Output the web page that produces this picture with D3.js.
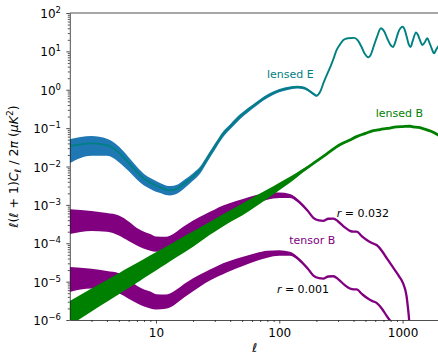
<!DOCTYPE html>
<html>
<head>
<meta charset="utf-8">
<script src="https://cdn.jsdelivr.net/npm/d3@7"></script>
<style>
  body { margin: 0; background: #fff; }
  svg { display: block; }
  text { font-family: "DejaVu Sans", sans-serif; }
</style>
</head>
<body>
<svg id="chart" width="438" height="355"></svg>
<script>
// ---- Lensed E-mode spectrum, D_ell in uK^2 ----
const lensedEEll = [2,3,4,5,6,7,8,9,10,11,12,13,15,17,20,23,26,30,35,40,48,56,65,75,89,100,122,140,160,180,200,215,230,245,260,275,292,310,331,360,405,435,465,495,527,555,585,620,668,710,750,795,836,875,918,960,1000,1040,1080,1120,1162,1210,1285,1330,1380,1450,1510,1585,1650,1720,1800,1870,1930,2000];
const lensedE = [0.034,0.040,0.036,0.023,0.0125,0.0072,0.0048,0.0038,0.0032,0.0028,0.0025,0.0024,0.0027,0.0036,0.0055,0.0085,0.016,0.033,0.070,0.11,0.20,0.30,0.43,0.60,0.81,0.95,1.12,1.18,1.10,0.88,0.70,0.90,1.6,2.6,4.0,6.4,10.9,15,19.8,22,22.5,19,13,8.5,7.0,8.5,14,24,40,33,22,15,13,18,30,40,44,37,24,15.5,13,19,31,27,20,14.7,17,22,17,12,8.9,11,13,15];
// cosmic-variance band on lensed E
const lensedEBandEll = [2,3,4,5,6,7,8,9,10,11,12,13,15,17,20,23,26,30,35,40,48,56,65,75,89,100,122,140,160,180,200];
const lensedELo = [0.0123,0.019,0.019,0.013,0.0076,0.0046,0.0032,0.0026,0.0022,0.0020,0.0018,0.00175,0.0020,0.0027,0.0043,0.0068,0.013,0.027,0.058,0.093,0.171,0.26,0.377,0.53,0.725,0.855,1.02,1.08,1.01,0.815,0.65];
const lensedEHi = [0.051,0.062,0.053,0.033,0.0174,0.0098,0.0064,0.0050,0.0042,0.0036,0.0032,0.0031,0.0034,0.0045,0.0067,0.0103,0.019,0.039,0.082,0.127,0.229,0.34,0.483,0.67,0.895,1.045,1.22,1.28,1.19,0.945,0.75];

// ---- Lensed B-mode spectrum ----
const lensedBEll = [2,3,4,5,6,7,8,10,12,15,20,25,30,40,50,65,80,100,122,150,190,240,310,370,424,500,578,656,750,896,1000,1150,1222,1350,1500,1700,2000];
const lensedB = [1.9e-6,3.8e-6,6.0e-6,9.2e-6,1.3e-5,1.75e-5,2.25e-5,3.4e-5,4.9e-5,7.5e-5,1.29e-4,2.0e-4,2.9e-4,5.1e-4,7.6e-4,1.27e-3,1.9e-3,3.0e-3,4.5e-3,7.2e-3,0.0122,0.0207,0.037,0.048,0.060,0.073,0.086,0.092,0.098,0.108,0.110,0.112,0.108,0.104,0.095,0.083,0.063];
const lensedBBandEll = [2,3,4,5,6,7,8,10,12,15,20,25,30,40,50,65,80,100,122,150,190];
const lensedBLo = [7.2e-7,1.66e-6,2.98e-6,4.7e-6,6.8e-6,9.3e-6,1.24e-5,1.96e-5,2.85e-5,4.5e-5,8.1e-5,1.36e-4,1.99e-4,3.58e-4,5.3e-4,9.2e-4,1.44e-3,2.4e-3,3.75e-3,6.4e-3,0.0117];
const lensedBHi = [3.15e-6,6.6e-6,1.11e-5,1.66e-5,2.32e-5,3.08e-5,3.9e-5,5.8e-5,8.1e-5,1.22e-4,2.05e-4,3.08e-4,4.28e-4,7.2e-4,1.08e-3,1.75e-3,2.5e-3,3.8e-3,5.4e-3,8.1e-3,0.0128];

// ---- Primordial tensor B-modes for two values of r ----
const tensorEll = [2,3,4,5,6,7,8,9,10,12,14,17,20,25,30,35,40,50,65,80,100,122,147,170,189,210,227,250,275,300,340,374,400,424,470,527,570,615,680,743,800,866,940,1010,1050,1078,1100,1120,1140];
const tensorB032 = [3.7e-4,3.85e-4,3.5e-4,2.95e-4,2.1e-4,1.5e-4,1.2e-4,1.05e-4,9.5e-5,9.8e-5,1.2e-4,1.9e-4,2.7e-4,4.1e-4,5.6e-4,7.0e-4,8.3e-4,1.06e-3,1.4e-3,1.68e-3,1.8e-3,1.7e-3,1.15e-3,7.0e-4,4.6e-4,3.95e-4,3.85e-4,4.35e-4,4.4e-4,3.7e-4,2.6e-4,2.1e-4,2.0e-4,2.0e-4,1.5e-4,1.14e-4,1.0e-4,9.0e-5,6.3e-5,4.1e-5,2.9e-5,2.0e-5,1.35e-5,9.0e-6,6.2e-6,4.1e-6,2.4e-6,1.4e-6,7.0e-7];
const tensorB001 = [1.16e-5,1.2e-5,1.09e-5,9.2e-6,6.6e-6,4.7e-6,3.75e-6,3.3e-6,3.0e-6,3.06e-6,3.75e-6,5.9e-6,8.4e-6,1.28e-5,1.75e-5,2.19e-5,2.6e-5,3.3e-5,4.4e-5,5.25e-5,5.6e-5,5.3e-5,3.6e-5,2.2e-5,1.44e-5,1.23e-5,1.2e-5,1.36e-5,1.38e-5,1.16e-5,8.1e-6,6.6e-6,6.25e-6,6.25e-6,4.7e-6,3.56e-6,3.1e-6,2.8e-6,1.97e-6,1.28e-6,9.1e-7,6.3e-7,4.2e-7,2.8e-7,1.9e-7,1.3e-7,7.5e-8,4.4e-8,2.2e-8];
const tensorBandEll = [2,3,4,5,6,7,8,9,10,12,14,17,20,25,30,35,40,50,65,80,100,122,147,170];
const tensorB032Lo = [1.74e-4,2.1e-4,2.0e-4,1.6e-4,1.15e-4,8.8e-5,7.2e-5,6.4e-5,6.0e-5,6.3e-5,7.8e-5,1.25e-4,1.8e-4,2.9e-4,4.0e-4,5.0e-4,6.1e-4,8.0e-4,1.1e-3,1.35e-3,1.5e-3,1.5e-3,1.05e-3,6.6e-4];
const tensorB032Hi = [7.7e-4,6.9e-4,6.1e-4,5.3e-4,3.7e-4,2.5e-4,2.0e-4,1.75e-4,1.5e-4,1.48e-4,1.8e-4,2.8e-4,3.9e-4,5.7e-4,7.6e-4,9.6e-4,1.12e-3,1.4e-3,1.8e-3,2.05e-3,2.1e-3,1.92e-3,1.25e-3,7.4e-4];
const tensorB001Lo = [5.4e-6,6.6e-6,6.25e-6,5.0e-6,3.6e-6,2.75e-6,2.25e-6,2.0e-6,1.88e-6,1.97e-6,2.44e-6,3.9e-6,5.6e-6,9.1e-6,1.25e-5,1.56e-5,1.9e-5,2.5e-5,3.44e-5,4.2e-5,4.7e-5,4.7e-5,3.3e-5,2.06e-5];
const tensorB001Hi = [2.4e-5,2.16e-5,1.9e-5,1.66e-5,1.16e-5,7.8e-6,6.25e-6,5.5e-6,4.7e-6,4.6e-6,5.6e-6,8.75e-6,1.22e-5,1.78e-5,2.375e-5,3.0e-5,3.5e-5,4.4e-5,5.6e-5,6.4e-5,6.6e-5,6.0e-5,3.9e-5,2.3e-5];

// ---- Axis ticks ----
const xMajorTicks = [10, 100, 1000];
const xTickLabels = ["10", "100", "1000"];
const yExponents = [-6, -5, -4, -3, -2, -1, 0, 1, 2];

// ---- Layout ----
const svg = d3.select("#chart");
const plotLeft = 69.8, plotRight = 439.7, plotTop = 13, plotBottom = 320;
const x = d3.scaleLog().domain([2, 2000]).range([plotLeft, plotRight]);
const y = d3.scaleLog().domain([1e-6, 1e2]).range([plotBottom, plotTop]);

svg.append("defs").append("clipPath").attr("id", "plot-area")
  .append("rect").attr("x", plotLeft).attr("y", plotTop)
  .attr("width", plotRight - plotLeft).attr("height", plotBottom - plotTop);

const plot = svg.append("g").attr("clip-path", "url(#plot-area)");

const pairs = (ells, vals) => ells.map((l, i) => [l, vals[i]]);
const triples = (ells, lo, hi) => ells.map((l, i) => [l, lo[i], hi[i]]);
const line = d3.line().x(d => x(d[0])).y(d => y(d[1])).curve(d3.curveMonotoneX);
const band = d3.area().x(d => x(d[0])).y0(d => y(d[1])).y1(d => y(d[2])).curve(d3.curveMonotoneX);

const C_PURPLE = "#800080", C_GREEN = "#008000", C_BLUE = "#1f77b4", C_TEAL = "#008080";

// tensor B, r = 0.001 and r = 0.032
plot.append("path").attr("d", band(triples(tensorBandEll, tensorB001Lo, tensorB001Hi))).attr("fill", C_PURPLE);
plot.append("path").attr("d", line(pairs(tensorEll, tensorB001))).attr("fill", "none").attr("stroke", C_PURPLE).attr("stroke-width", 2.3);
plot.append("path").attr("d", band(triples(tensorBandEll, tensorB032Lo, tensorB032Hi))).attr("fill", C_PURPLE);
plot.append("path").attr("d", line(pairs(tensorEll, tensorB032))).attr("fill", "none").attr("stroke", C_PURPLE).attr("stroke-width", 2.3);

// lensed B
plot.append("path").attr("d", band(triples(lensedBBandEll, lensedBLo, lensedBHi))).attr("fill", C_GREEN);
plot.append("path").attr("d", line(pairs(lensedBEll, lensedB))).attr("fill", "none").attr("stroke", C_GREEN).attr("stroke-width", 2.8);

// lensed E
plot.append("path").attr("d", band(triples(lensedEBandEll, lensedELo, lensedEHi))).attr("fill", C_BLUE);
plot.append("path").attr("d", line(pairs(lensedEEll, lensedE))).attr("fill", "none").attr("stroke", C_TEAL).attr("stroke-width", 1.9);

// ---- Axes ----
const minorX = [];
[1, 10, 100, 1000].forEach(d => { for (let k = 2; k <= 9; k++) { const v = d * k; if (v > 2 && v < 2000 && !xMajorTicks.includes(v)) minorX.push(v); } });
const minorY = [];
yExponents.slice(0, -1).forEach(e => { for (let k = 2; k <= 9; k++) minorY.push(k * Math.pow(10, e)); });

const axisColor = "#222";
const xAxis = svg.append("g").attr("transform", `translate(0,${plotBottom})`)
  .call(d3.axisBottom(x).tickValues(xMajorTicks).tickFormat((d, i) => xTickLabels[i]).tickSize(3.5).tickSizeOuter(0).tickPadding(5.2));
svg.append("g").attr("transform", `translate(0,${plotBottom})`)
  .call(d3.axisBottom(x).tickValues(minorX).tickFormat("").tickSize(2).tickSizeOuter(0))
  .call(g => g.select(".domain").remove());
xAxis.selectAll("text").attr("font-size", 12).attr("fill", "#000").attr("font-family", "DejaVu Sans");

svg.append("g").attr("transform", `translate(${plotLeft},0)`)
  .call(d3.axisLeft(y).tickValues(yExponents.map(e => Math.pow(10, e))).tickFormat("").tickSize(3.5).tickSizeOuter(0));
svg.append("g").attr("transform", `translate(${plotLeft},0)`)
  .call(d3.axisLeft(y).tickValues(minorY).tickFormat("").tickSize(2).tickSizeOuter(0))
  .call(g => g.select(".domain").remove());

svg.selectAll(".domain, .tick line").attr("stroke", axisColor).attr("stroke-width", 0.8);

// top and right frame lines
svg.append("line").attr("x1", plotLeft).attr("x2", plotRight).attr("y1", plotTop).attr("y2", plotTop).attr("stroke", axisColor).attr("stroke-width", 0.8);
svg.append("line").attr("x1", plotRight).attr("x2", plotRight).attr("y1", plotTop).attr("y2", plotBottom).attr("stroke", axisColor).attr("stroke-width", 0.8);

// y tick labels as powers of ten
yExponents.forEach(e => {
  const t = svg.append("text").attr("x", 61).attr("y", y(Math.pow(10, e)) + 5)
    .attr("text-anchor", "end").attr("fill", "#000");
  t.append("tspan").attr("font-size", 12).text("10");
  t.append("tspan").attr("font-size", 8.5).attr("dy", -5).text(e < 0 ? "\u2212" + Math.abs(e) : String(e));
});

// axis titles
svg.append("text").attr("x", (plotLeft + plotRight) / 2).attr("y", 352).attr("text-anchor", "middle")
  .attr("font-size", 12.5).attr("font-style", "italic").text("\u2113");

const yt = svg.append("text").attr("transform", `translate(18,${(plotTop + plotBottom) / 2}) rotate(-90)`)
  .attr("text-anchor", "middle").attr("font-size", 12.5);
yt.append("tspan").attr("font-style", "italic").text("\u2113");
yt.append("tspan").text("(");
yt.append("tspan").attr("font-style", "italic").text("\u2113");
yt.append("tspan").text(" + 1)");
yt.append("tspan").attr("font-style", "italic").text("C");
yt.append("tspan").attr("font-style", "italic").attr("font-size", 9).attr("dy", 3).text("\u2113");
yt.append("tspan").attr("dy", -3).text(" / 2");
yt.append("tspan").attr("font-style", "italic").text("\u03c0");
yt.append("tspan").text(" (");
yt.append("tspan").attr("font-style", "italic").text("\u03bcK");
yt.append("tspan").attr("font-size", 9).attr("dy", -5).text("2");
yt.append("tspan").attr("dy", 5).text(")");

// curve annotations
const notes = [
  { text: "lensed E", x: 290.3, y: 77.5, color: C_TEAL },
  { text: "lensed B", x: 399.3, y: 117, color: C_GREEN },
  { text: "tensor B", x: 312.2, y: 244, color: C_PURPLE }
];
notes.forEach(n => svg.append("text").attr("x", n.x).attr("y", n.y).attr("text-anchor", "middle")
  .attr("font-size", 11).attr("fill", n.color).text(n.text));

const rLabels = [{ r: "0.032", x: 362.8, y: 216.5 }, { r: "0.001", x: 303, y: 292.5 }];
rLabels.forEach(d => {
  const t = svg.append("text").attr("x", d.x).attr("y", d.y).attr("text-anchor", "middle").attr("font-size", 11).attr("fill", "#000");
  t.append("tspan").attr("font-style", "italic").text("r");
  t.append("tspan").text(" = " + d.r);
});
</script>
</body>
</html>
